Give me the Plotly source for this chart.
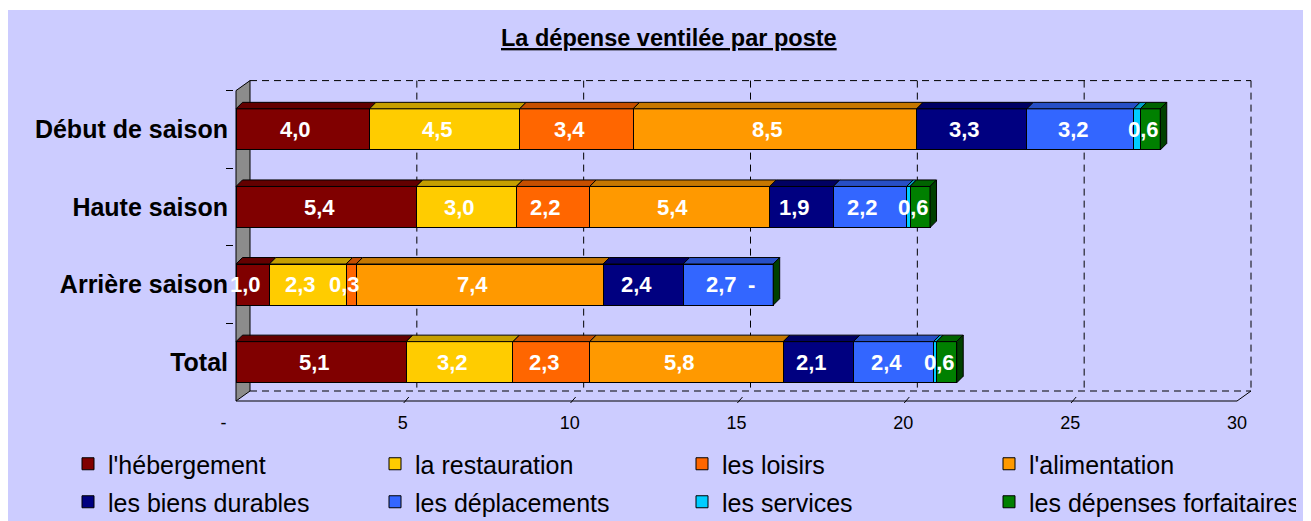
import plotly.graph_objects as go

# ---------------- data ----------------
categories = ["Début de saison", "Haute saison", "Arrière saison", "Total"]
series_names = ["l'hébergement", "la restauration", "les loisirs", "l'alimentation",
                "les biens durables", "les déplacements", "les services",
                "les dépenses forfaitaires"]
hebergement = [4.0, 5.4, 1.0, 5.1]
restauration = [4.5, 3.0, 2.3, 3.2]
loisirs = [3.4, 2.2, 0.3, 2.3]
alimentation = [8.5, 5.4, 7.4, 5.8]
biens_durables = [3.3, 1.9, 2.4, 2.1]
deplacements = [3.2, 2.2, 2.7, 2.4]
services = [0.2, 0.1, 0.0, 0.1]
forfaitaires = [0.6, 0.6, 0.0, 0.6]
x_tick_values = [0, 5, 10, 15, 20, 25, 30]
x_tick_labels = ["-", "5", "10", "15", "20", "25", "30"]
title_text = "La dépense ventilée par poste"

series = [hebergement, restauration, loisirs, alimentation,
          biens_durables, deplacements, services, forfaitaires]
colors = ["#800000", "#FFCC00", "#FF6600", "#FF9900",
          "#000080", "#3366FF", "#00CCFF", "#008000"]
show_value_label = [True, True, True, True, True, True, False, True]

# ---------------- geometry (pixels, figure coordinates) ----------------
OFF = 8                      # page offset of the figure inside the browser window
W, H = 1311, 521
L, T = 234 - OFF, 79 - OFF
PW, PH = 1018, 324
R, B = W - L - PW, H - T - PH
UX = 1001 / 30.0          # px per x unit
UY = (401 - 90.6) / 4.0   # px per category
x_range = [-2 / UX, -2 / UX + PW / UX]
y_range = [3.5 + 2 / UY, -0.5 - (90.6 - 79) / UY]   # reversed: first category on top
WALL_DX, WALL_DY = 14 / UX, 10 / UY
BAR_DX, BAR_DY = 6.5 / UX, 6.5 / UY
BAR_W = 0.53
FONT = "Liberation Sans, Arial, sans-serif"


def px_to_paper_x(px):          # px given in window coordinates
    return (px - OFF - L) / PW


def px_to_paper_y(py):
    return (T + PH - (py - OFF)) / PH


def shade(hexcol, f):
    h = hexcol.lstrip("#")
    r, g, b = (int(h[i:i + 2], 16) for i in (0, 2, 4))
    return "#%02x%02x%02x" % (int(r * f), int(g * f), int(b * f))


def fmt(v):
    return f"{v:.1f}".replace(".", ",")


fig = go.Figure()
for k, (name, vals) in enumerate(zip(series_names, series)):
    fig.add_trace(go.Bar(
        y=categories, x=vals, orientation="h", name=name,
        marker=dict(color=colors[k], line=dict(color="black", width=1)),
        width=BAR_W, hoverinfo="skip",
        legend="legend" if k < 4 else "legend2",
    ))

shapes = []
dash = "7px,5px"
xmax = x_tick_values[-1]
# back wall gridlines / edges
for v in x_tick_values[1:]:
    shapes.append(dict(type="line", layer="below", x0=v + WALL_DX, x1=v + WALL_DX,
                       y0=-0.5 - WALL_DY, y1=3.5 - WALL_DY,
                       line=dict(color="black", width=1, dash=dash)))
for yb in (-0.5, 3.5):
    shapes.append(dict(type="line", layer="below", x0=WALL_DX, x1=xmax + WALL_DX,
                       y0=yb - WALL_DY, y1=yb - WALL_DY,
                       line=dict(color="black", width=1, dash=dash)))
# floor: front axis + right diagonal + depth ticks
shapes.append(dict(type="line", layer="below", x0=0, x1=xmax, y0=3.5, y1=3.5,
                   line=dict(color="black", width=1)))
shapes.append(dict(type="line", layer="below", x0=xmax, x1=xmax + WALL_DX,
                   y0=3.5, y1=3.5 - WALL_DY, line=dict(color="black", width=1)))
for v in x_tick_values[1:-1]:
    shapes.append(dict(type="line", layer="below", x0=v, x1=v + 6 / UX,
                       y0=3.5 + 3 / UY, y1=3.5 - 4 / UY,
                       line=dict(color="black", width=1)))
# grey side wall
shapes.append(dict(type="path", layer="below",
                   path=f"M 0,3.5 L {WALL_DX},{3.5 - WALL_DY} L {WALL_DX},{-0.5 - WALL_DY} L 0,-0.5 Z",
                   fillcolor="#8c8c8c", line=dict(color="black", width=1)))

label_font = dict(family=FONT, size=22, color="white", weight="bold")
annotations = []
cum = [0.0] * len(categories)
for k, vals in enumerate(series):
    for i, v in enumerate(vals):
        x0, x1 = cum[i], cum[i] + v
        yt = i - BAR_W / 2
        if v > 0:
            shapes.append(dict(
                type="path", layer="above",
                path=(f"M {x0},{yt} L {x0 + BAR_DX},{yt - BAR_DY} "
                      f"L {x1 + BAR_DX},{yt - BAR_DY} L {x1},{yt} Z"),
                fillcolor=shade(colors[k], 0.78), line=dict(color="black", width=1)))
            if show_value_label[k]:
                annotations.append(dict(x=(x0 + x1) / 2, y=categories[i], text=fmt(v),
                                        showarrow=False, xshift=-7, font=label_font))
        elif k == len(series) - 1:
            annotations.append(dict(x=x1, y=categories[i], text="-", showarrow=False,
                                    xshift=-22, font=label_font))
        cum[i] = x1

# right side faces
for i, xe in enumerate(cum):
    yt, yb = i - BAR_W / 2, i + BAR_W / 2
    shapes.append(dict(
        type="path", layer="above",
        path=(f"M {xe},{yb} L {xe},{yt} L {xe + BAR_DX},{yt - BAR_DY} "
              f"L {xe + BAR_DX},{yb - BAR_DY} Z"),
        fillcolor=shade(colors[-1], 0.5), line=dict(color="black", width=1)))

# thin white strip at the top of the picture
shapes.append(dict(type="rect", xref="paper", yref="paper", layer="above",
                   x0=px_to_paper_x(0), x1=px_to_paper_x(W + OFF),
                   y0=px_to_paper_y(10), y1=px_to_paper_y(0),
                   fillcolor="white", line=dict(width=0)))

annotations.append(dict(xref="paper", yref="paper", x=px_to_paper_x(669), y=px_to_paper_y(38),
                        text=f"<b><u>{title_text}</u></b>", showarrow=False,
                        xanchor="center", yanchor="middle",
                        font=dict(family=FONT, size=23.5, color="black")))

legend_common = dict(orientation="h", xref="paper", yref="paper", traceorder="normal",
                     x=px_to_paper_x(68), xanchor="left", yanchor="top",
                     entrywidth=262, entrywidthmode="pixels",
                     bgcolor="rgba(0,0,0,0)", borderwidth=0,
                     font=dict(family=FONT, size=25, color="black"))

fig.update_layout(
    width=W, height=H,
    margin=dict(l=L, r=R, t=T, b=B, autoexpand=False),
    paper_bgcolor="#CCCCFF", plot_bgcolor="#CCCCFF",
    barmode="stack",
    showlegend=True,
    legend=dict(legend_common, y=px_to_paper_y(441)),
    legend2=dict(legend_common, y=px_to_paper_y(479)),
    xaxis=dict(range=x_range, tickvals=x_tick_values,
               ticktext=[t if t != "-" else "-" + "\u00a0" * 5 for t in x_tick_labels],
               ticks="", showgrid=False, zeroline=False, showline=False,
               ticklabelstandoff=7,
               tickfont=dict(family=FONT, size=18, color="black")),
    yaxis=dict(type="category", categoryorder="array", categoryarray=categories,
               range=y_range, tickson="boundaries", ticks="outside", ticklen=7,
               tickcolor="black", tickwidth=1, showgrid=False, zeroline=False,
               showline=False, ticklabelstandoff=5,
               tickfont=dict(family=FONT, size=25, color="black", weight="bold")),
    shapes=shapes, annotations=annotations,
)

fig.write_html("out.html")
